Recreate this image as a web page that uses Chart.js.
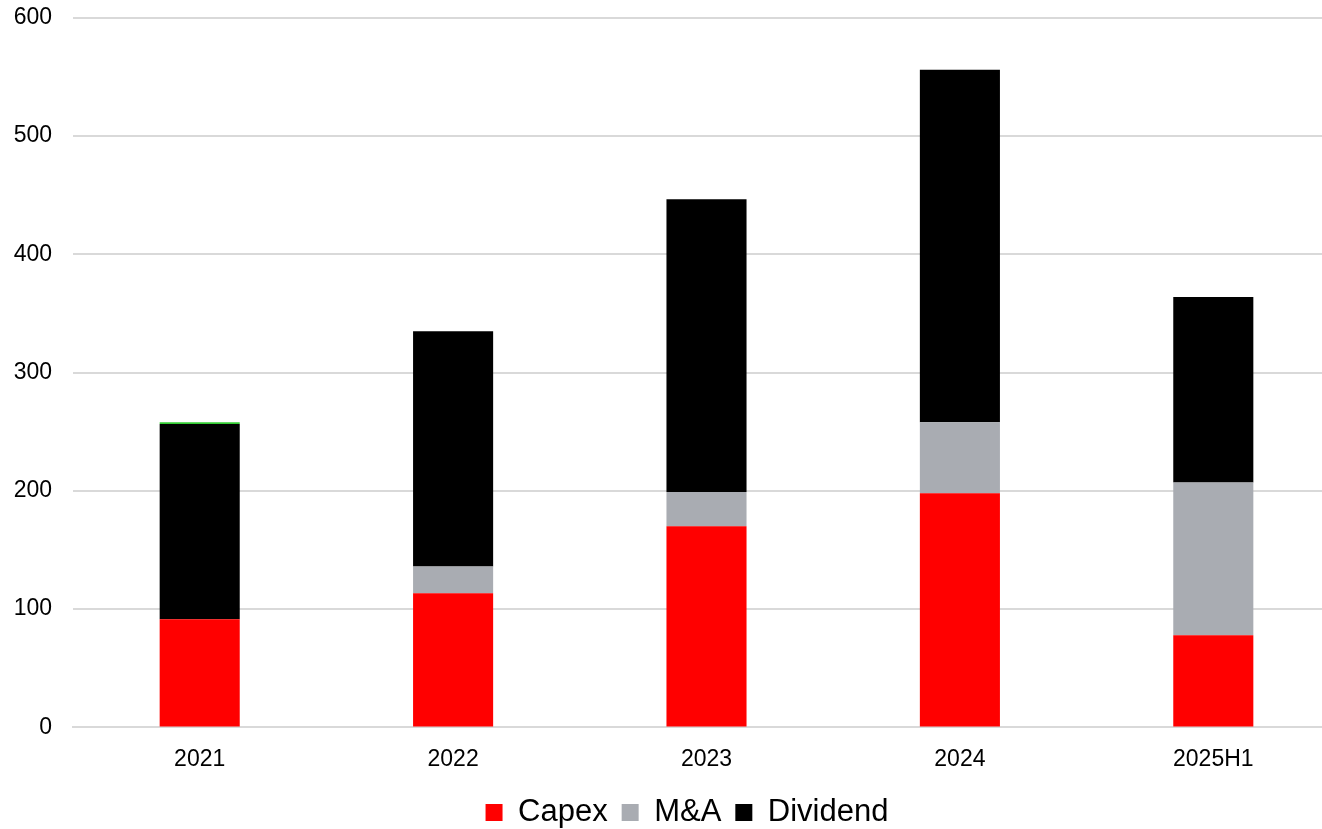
<!DOCTYPE html>
<html><head><meta charset="utf-8">
<script src="https://cdn.jsdelivr.net/npm/chart.js@4"></script>
<style>html,body{margin:0;padding:0;background:#fff;overflow:hidden;width:1322px;height:829px;position:relative}
#w{position:absolute;left:0;top:-17px;width:1340px;height:855px}</style>
</head><body><div id="w"><canvas id="c"></canvas></div>
<script>
const categories = ["2021","2022","2023","2024","2025H1"];
const capex = [91.5, 113.5, 170, 198, 78];
const mna = [0, 22.5, 29, 60, 129];
const dividend = [165, 199, 247.5, 298, 157];
const other = [1.5, 0, 0, 0, 0];
const yTicks = [0,100,200,300,400,500,600];

Chart.defaults.font.family = "'Liberation Sans', Arial, sans-serif";
Chart.defaults.color = "#000";
const chart = new Chart(document.getElementById('c'), {
  type: 'bar',
  data: {
    labels: categories,
    datasets: [
      {label:'Capex', data: capex, backgroundColor:'#ff0000'},
      {label:'M&A', data: mna, backgroundColor:'#a9acb2'},
      {label:'Dividend', data: dividend, backgroundColor:'#000000'},
      {label:'', data: other, backgroundColor:'#33cc33'}
    ]
  },
  options: {
    responsive:true, maintainAspectRatio:false, animation:false,
    layout:{padding:{top:0,right:0,bottom:0,left:0}},
    datasets:{bar:{categoryPercentage:0.632, barPercentage:0.5}},
    scales:{
      x:{stacked:true, grid:{display:false}, border:{color:'#d9d9d9',width:2},
         ticks:{font:{size:23}, padding:10}},
      y:{stacked:true, min:0, max:600, afterBuildTicks: a => { a.ticks = yTicks.map(v=>({value:v})); },
         afterFit: a => { a.width = 73; },
         grid:{color:'#d9d9d9', lineWidth:2, drawTicks:false}, border:{display:false},
         ticks:{font:{size:23}, padding:21}}
    },
    plugins:{
      tooltip:{enabled:false},
      legend:{position:'bottom', labels:{font:{size:31}, boxWidth:17, boxHeight:17, padding:14,
        filter: i => i.text !== ''}}
    }
  }
});
const origDraw = chart.legend.draw.bind(chart.legend);
chart.legend.draw = function(){ const ctx = chart.ctx; ctx.save(); ctx.translate(17,0); origDraw(); ctx.restore(); };
chart.update();
</script></body></html>
